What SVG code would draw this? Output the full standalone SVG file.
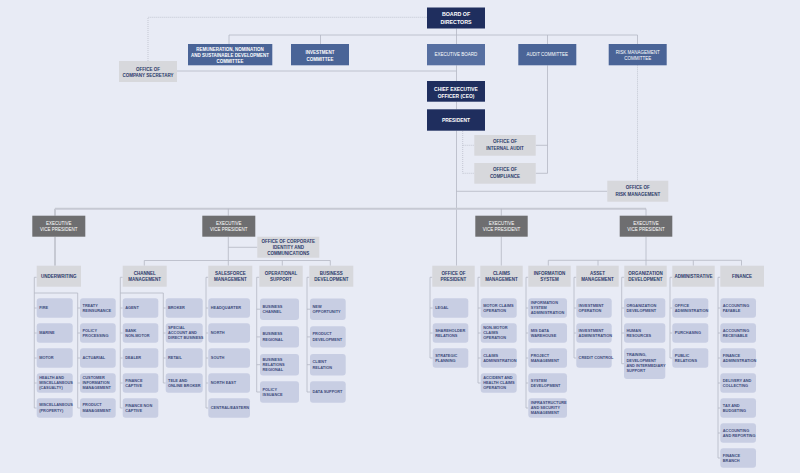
<svg xmlns="http://www.w3.org/2000/svg" width="800" height="473" viewBox="0 0 800 473">
<style>
text{font-family:"Liberation Sans",Arial,sans-serif;}
.nv{fill:#1f2e5e}
.cm{fill:#4a6497}
.eb{fill:#566fa1}
.lg{fill:#d7d8dc}
.ev{fill:#6e6e70}
.it{fill:#c8cee3}
.wt{fill:#ffffff;font-weight:bold;font-size:4.5px;text-anchor:middle}
.wb{fill:#ffffff;font-weight:bold;font-size:5.3px;text-anchor:middle}
.ht{fill:#2c3a6a;font-weight:bold;font-size:4.5px;text-anchor:middle}
.t{fill:#3d4b7c;font-weight:bold;font-size:3.9px}
.ln{stroke:#b4b8c4;stroke-width:0.8;fill:none}
.tk{stroke:#c6c9d3;stroke-width:2;fill:none}
.dl{stroke:#b4b8c4;stroke-width:0.7;fill:none;stroke-dasharray:1 1}
</style>
<rect width="800" height="473" fill="#e8ebf5"/>

<g id="connectors">
<path class="dl" d="M148 61V17.3H427"/>
<path class="ln" d="M229 44V35H637.5V44M320.5 35V44M547.5 35V44M456.5 28.5V44M456.5 65.3V81M456.5 101.7V109.3M177 71H456.5"/>
<path class="ln" d="M547.5 65.3V173.3M535.7 145.3H547.5M535.7 173.3H547.5"/>
<path class="dl" d="M462.7 131V173.3M462.7 145.3H474.3M462.7 173.3H474.3M637.5 65.3V180.7"/>
<path class="ln" d="M456.5 130.7V265.7M456.5 191.3H607.3"/>
<path class="tk" d="M55 208.7H646M55 208.7V215.7M55 236.7V265.7"/>
<path class="ln" d="M228.3 208.7V215.7M228.3 236.7V265.7M501.3 208.7V215.7M501.3 236.7V265.7M646 208.7V215.7M646 236.7V265.7M228.3 247.3H257.3"/>
<path class="ln" d="M144.3 265.7V260.5H330.3V265.7M282.3 260.5V265.7"/>
<path class="ln" d="M548.3 265.7V260.3H741.5V265.7M598 260.3V265.7M693.3 260.3V265.7"/>
<path class="ln" d="M34.3 277.3H36.7M34.3 277.3V408M34.3 308H36.7M34.3 333H36.7M34.3 358H36.7M34.3 383H36.7M34.3 408H36.7M34.3 293H77.7V408M77.7 308H80M77.7 333H80M77.7 358H80M77.7 383H80M77.7 408H80"/>
<path class="ln" d="M120.3 277.3H122.7M120.3 277.3V408M120.3 308H122.7M120.3 333H122.7M120.3 358H122.7M120.3 383H122.7M120.3 408H122.7M120.3 293H163.3V383M163.3 308H165.7M163.3 333H165.7M163.3 358H165.7M163.3 383H165.7"/>
<path class="ln" d="M206 277.3H208.3M206 277.3V408M206 308H208.3M206 333H208.3M206 358H208.3M206 383H208.3M206 408H208.3"/>
<path class="ln" d="M256.7 277.3H259.3M256.7 277.3V392M256.7 309.2H260M256.7 336.9H260M256.7 364.7H260M256.7 392H260"/>
<path class="ln" d="M307 277.3H309.3M307 277.3V392M307 309.2H310M307 336.9H310M307 364.7H310M307 392H310"/>
<path class="ln" d="M430 277.3H432.3M430 277.3V358M430 308H432.7M430 333H432.7M430 358H432.7"/>
<path class="ln" d="M478 277.3H480.3M478 277.3V383M478 308H480.7M478 333H480.7M478 358H480.7M478 383H480.7"/>
<path class="ln" d="M526 277.3H528.3M526 277.3V408M526 308H528.3M526 333H528.3M526 358H528.3M526 383H528.3M526 408H528.3"/>
<path class="ln" d="M574 277.3H576.3M574 277.3V358M574 308H576.3M574 333H576.3M574 358H576.3"/>
<path class="ln" d="M621.7 277.3H624.3M621.7 277.3V363.7M621.7 308H624M621.7 333H624M621.7 363.7H624"/>
<path class="ln" d="M670 277.3H672.3M670 277.3V358M670 308H672.3M670 333H672.3M670 358H672.3"/>
<path class="ln" d="M718 277.3H720.3M718 277.3V458M718 308H720.3M718 333H720.3M718 358H720.3M718 383H720.3M718 408H720.3M718 433H720.3M718 458H720.3"/>
</g>

<g id="board"><rect class="nv" x="427" y="7.5" width="58" height="21"/><text class="wb"><tspan x="456" y="15.7">BOARD OF</tspan><tspan x="456" y="24">DIRECTORS</tspan></text></g>
<g id="remuneration"><rect class="cm" x="188" y="44" width="84.3" height="21.3"/><text class="wt"><tspan x="230" y="50.6">REMUNERATION, NOMINATION</tspan><tspan x="230" y="56.9">AND SUSTAINABLE DEVELOPMENT</tspan><tspan x="230" y="63.2">COMMITTEE</tspan></text></g>
<g id="investment"><rect class="cm" x="291" y="44" width="58" height="21.3"/><text class="wt"><tspan x="320" y="54.3">INVESTMENT</tspan><tspan x="320" y="60.6">COMMITTEE</tspan></text></g>
<g id="executive-board"><rect class="eb" x="427" y="44" width="58" height="21.3"/><text class="wt" x="456" y="56.4" style="font-weight:normal">EXECUTIVE BOARD</text></g>
<g id="audit-committee"><rect class="cm" x="518.3" y="44" width="58" height="21.3"/><text class="wt" x="547.3" y="56.4" style="font-weight:normal">AUDIT COMMITTEE</text></g>
<g id="risk-committee"><rect class="cm" x="608.7" y="44" width="58" height="21.3"/><text class="wt" style="font-weight:normal"><tspan x="637.7" y="53.6">RISK MANAGEMENT</tspan><tspan x="637.7" y="59.6">COMMITTEE</tspan></text></g>
<g id="company-secretary"><rect class="lg" x="119" y="61" width="58" height="21"/><text class="ht"><tspan x="148" y="71">OFFICE OF</tspan><tspan x="148" y="77.3">COMPANY SECRETARY</tspan></text></g>
<g id="ceo"><rect class="nv" x="427" y="81" width="58" height="20.7"/><text class="wt" style="font-size:4.9px"><tspan x="456" y="90.8">CHIEF EXECUTIVE</tspan><tspan x="456" y="98.4">OFFICER (CEO)</tspan></text></g>
<g id="president"><rect class="nv" x="427" y="109.3" width="58" height="21.4"/><text class="wt" x="456" y="121.6" style="font-size:4.9px">PRESIDENT</text></g>
<g id="internal-audit"><rect class="lg" x="474.3" y="135" width="61.4" height="20.7"/><text class="ht"><tspan x="505" y="143.3">OFFICE OF</tspan><tspan x="505" y="150.3">INTERNAL AUDIT</tspan></text></g>
<g id="compliance"><rect class="lg" x="474.3" y="163" width="61.4" height="20.7"/><text class="ht"><tspan x="505" y="171.3">OFFICE OF</tspan><tspan x="505" y="177.6">COMPLIANCE</tspan></text></g>
<g id="risk-office"><rect class="lg" x="607.3" y="180.7" width="61" height="21"/><text class="ht"><tspan x="637.8" y="189.3">OFFICE OF</tspan><tspan x="637.8" y="196">RISK MANAGEMENT</tspan></text></g>

<g id="evp1"><rect class="ev" x="32.3" y="215.7" width="53" height="21"/><text class="wt" style="font-weight:normal"><tspan x="58.8" y="224.9">EXECUTIVE</tspan><tspan x="58.8" y="230.9">VICE PRESIDENT</tspan></text></g>
<g id="evp2"><rect class="ev" x="202.3" y="215.7" width="53" height="21"/><text class="wt" style="font-weight:normal"><tspan x="228.8" y="224.9">EXECUTIVE</tspan><tspan x="228.8" y="230.9">VICE PRESIDENT</tspan></text></g>
<g id="evp3"><rect class="ev" x="475.3" y="215.7" width="52.4" height="21"/><text class="wt" style="font-weight:normal"><tspan x="501.5" y="224.9">EXECUTIVE</tspan><tspan x="501.5" y="230.9">VICE PRESIDENT</tspan></text></g>
<g id="evp4"><rect class="ev" x="619.7" y="215.7" width="52.6" height="21"/><text class="wt" style="font-weight:normal"><tspan x="646" y="224.9">EXECUTIVE</tspan><tspan x="646" y="230.9">VICE PRESIDENT</tspan></text></g>
<g id="corporate-identity"><rect class="lg" x="257.3" y="236.7" width="62" height="21"/><text class="ht"><tspan x="288.3" y="242.6">OFFICE OF CORPORATE</tspan><tspan x="288.3" y="248.9">IDENTITY AND</tspan><tspan x="288.3" y="255.2">COMMUNICATIONS</tspan></text></g>

<g id="underwriting">
<rect class="lg" x="36.7" y="265.7" width="44.3" height="21"/><text class="ht" x="58.8" y="277.8">UNDERWRITING</text>
<rect class="it" x="36.7" y="298.3" width="36" height="19.4" rx="3"/><text class="t" x="39.2" y="309.2">FIRE</text>
<rect class="it" x="36.7" y="323.3" width="36" height="19.4" rx="3"/><text class="t" x="39.2" y="334.2">MARINE</text>
<rect class="it" x="36.7" y="348.3" width="36" height="19.4" rx="3"/><text class="t" x="39.2" y="359.2">MOTOR</text>
<rect class="it" x="36.7" y="373.3" width="36" height="19.4" rx="3"/><text class="t"><tspan x="39.2" y="378.6">HEALTH AND</tspan><tspan x="39.2" y="383.9">MISCELLANEOUS</tspan><tspan x="39.2" y="389.2">(CASUALTY)</tspan></text>
<rect class="it" x="36.7" y="398.3" width="36" height="19.4" rx="3"/><text class="t"><tspan x="39.2" y="406.3">MISCELLANEOUS</tspan><tspan x="39.2" y="411.6">(PROPERTY)</tspan></text>
<rect class="it" x="80" y="298.3" width="35.7" height="19.4" rx="3"/><text class="t"><tspan x="82.5" y="306.5">TREATY</tspan><tspan x="82.5" y="311.8">REINSURANCE</tspan></text>
<rect class="it" x="80" y="323.3" width="35.7" height="19.4" rx="3"/><text class="t"><tspan x="82.5" y="331.5">POLICY</tspan><tspan x="82.5" y="336.8">PROCESSING</tspan></text>
<rect class="it" x="80" y="348.3" width="35.7" height="19.4" rx="3"/><text class="t" x="82.5" y="359.2">ACTUARIAL</text>
<rect class="it" x="80" y="373.3" width="35.7" height="19.4" rx="3"/><text class="t"><tspan x="82.5" y="378.6">CUSTOMER</tspan><tspan x="82.5" y="383.9">INFORMATION</tspan><tspan x="82.5" y="389.2">MANAGEMENT</tspan></text>
<rect class="it" x="80" y="398.3" width="35.7" height="19.4" rx="3"/><text class="t"><tspan x="82.5" y="406.3">PRODUCT</tspan><tspan x="82.5" y="411.6">MANAGEMENT</tspan></text>
</g>

<g id="channel-management">
<rect class="lg" x="122.7" y="265.7" width="44" height="21"/><text class="ht"><tspan x="144.7" y="274.6">CHANNEL</tspan><tspan x="144.7" y="280.9">MANAGEMENT</tspan></text>
<rect class="it" x="122.7" y="298.3" width="35.6" height="19.4" rx="3"/><text class="t" x="125.2" y="309.2">AGENT</text>
<rect class="it" x="122.7" y="323.3" width="35.6" height="19.4" rx="3"/><text class="t"><tspan x="125.2" y="331.5">BANK</tspan><tspan x="125.2" y="336.8">NON-MOTOR</tspan></text>
<rect class="it" x="122.7" y="348.3" width="35.6" height="19.4" rx="3"/><text class="t" x="125.2" y="359.2">DEALER</text>
<rect class="it" x="122.7" y="373.3" width="35.6" height="19.4" rx="3"/><text class="t"><tspan x="125.2" y="381.5">FINANCE</tspan><tspan x="125.2" y="386.8">CAPTIVE</tspan></text>
<rect class="it" x="122.7" y="398.3" width="35.6" height="19.4" rx="3"/><text class="t"><tspan x="125.2" y="406.5">FINANCE NON</tspan><tspan x="125.2" y="411.8">CAPTIVE</tspan></text>
<rect class="it" x="165.7" y="298.3" width="37" height="19.4" rx="3"/><text class="t" x="168" y="309.2">BROKER</text>
<rect class="it" x="165.7" y="323.3" width="37" height="19.4" rx="3"/><text class="t"><tspan x="168" y="328.8">SPECIAL</tspan><tspan x="168" y="334.1">ACCOUNT AND</tspan><tspan x="168" y="339.4">DIRECT BUSINESS</tspan></text>
<rect class="it" x="165.7" y="348.3" width="37" height="19.4" rx="3"/><text class="t" x="168" y="359.2">RETAIL</text>
<rect class="it" x="165.7" y="373.3" width="37" height="19.4" rx="3"/><text class="t"><tspan x="168" y="381.5">TELE AND</tspan><tspan x="168" y="386.8">ONLINE BROKER</tspan></text>
</g>

<g id="salesforce-management">
<rect class="lg" x="208.3" y="265.7" width="44" height="21"/><text class="ht"><tspan x="230.3" y="274.6">SALESFORCE</tspan><tspan x="230.3" y="280.9">MANAGEMENT</tspan></text>
<rect class="it" x="208.3" y="298.3" width="41.7" height="19.4" rx="3"/><text class="t" x="210.8" y="309.2">HEADQUARTER</text>
<rect class="it" x="208.3" y="323.3" width="41.7" height="19.4" rx="3"/><text class="t" x="210.8" y="334.2">NORTH</text>
<rect class="it" x="208.3" y="348.3" width="41.7" height="19.4" rx="3"/><text class="t" x="210.8" y="359.2">SOUTH</text>
<rect class="it" x="208.3" y="373.3" width="41.7" height="19.4" rx="3"/><text class="t" x="210.8" y="384.2">NORTH EAST</text>
<rect class="it" x="208.3" y="398.3" width="41.7" height="19.4" rx="3"/><text class="t" x="210.8" y="409.2">CENTRAL/EASTERN</text>
</g>

<g id="operational-support">
<rect class="lg" x="259.3" y="265.7" width="43.4" height="21"/><text class="ht"><tspan x="281" y="274.6">OPERATIONAL</tspan><tspan x="281" y="280.9">SUPPORT</tspan></text>
<rect class="it" x="260" y="298.5" width="39" height="21.4" rx="3"/><text class="t"><tspan x="262.5" y="307.7">BUSINESS</tspan><tspan x="262.5" y="313">CHANNEL</tspan></text>
<rect class="it" x="260" y="326.2" width="39" height="21.4" rx="3"/><text class="t"><tspan x="262.5" y="335.4">BUSINESS</tspan><tspan x="262.5" y="340.7">REGIONAL</tspan></text>
<rect class="it" x="260" y="354" width="39" height="21.4" rx="3"/><text class="t"><tspan x="262.5" y="360.5">BUSINESS</tspan><tspan x="262.5" y="365.8">RELATIONS</tspan><tspan x="262.5" y="371.1">REGIONAL</tspan></text>
<rect class="it" x="260" y="381.3" width="39" height="21.4" rx="3"/><text class="t"><tspan x="262.5" y="390.5">POLICY</tspan><tspan x="262.5" y="395.8">ISSUANCE</tspan></text>
</g>

<g id="business-development">
<rect class="lg" x="309.3" y="265.7" width="44" height="21"/><text class="ht"><tspan x="331.3" y="274.6">BUSINESS</tspan><tspan x="331.3" y="280.9">DEVELOPMENT</tspan></text>
<rect class="it" x="310" y="298.5" width="35.7" height="21.4" rx="3"/><text class="t"><tspan x="312.5" y="307.7">NEW</tspan><tspan x="312.5" y="313">OPPORTUNITY</tspan></text>
<rect class="it" x="310" y="326.2" width="35.7" height="21.4" rx="3"/><text class="t"><tspan x="312.5" y="335.4">PRODUCT</tspan><tspan x="312.5" y="340.7">DEVELOPMENT</tspan></text>
<rect class="it" x="310" y="354" width="35.7" height="21.4" rx="3"/><text class="t"><tspan x="312.5" y="363.2">CLIENT</tspan><tspan x="312.5" y="368.5">RELATION</tspan></text>
<rect class="it" x="310" y="381.3" width="35.7" height="21.4" rx="3"/><text class="t" x="312.5" y="393.3">DATA SUPPORT</text>
</g>

<g id="office-of-president">
<rect class="lg" x="432.3" y="265.7" width="42.4" height="21"/><text class="ht"><tspan x="453.5" y="274.6">OFFICE OF</tspan><tspan x="453.5" y="280.9">PRESIDENT</tspan></text>
<rect class="it" x="432.7" y="298.3" width="35.6" height="19.4" rx="3"/><text class="t" x="435.2" y="309.2">LEGAL</text>
<rect class="it" x="432.7" y="323.3" width="35.6" height="19.4" rx="3"/><text class="t"><tspan x="435.2" y="331.5">SHAREHOLDER</tspan><tspan x="435.2" y="336.8">RELATIONS</tspan></text>
<rect class="it" x="432.7" y="348.3" width="35.6" height="19.4" rx="3"/><text class="t"><tspan x="435.2" y="356.5">STRATEGIC</tspan><tspan x="435.2" y="361.8">PLANNING</tspan></text>
</g>

<g id="claims-management">
<rect class="lg" x="480.3" y="265.7" width="42.4" height="21"/><text class="ht"><tspan x="501.5" y="274.6">CLAIMS</tspan><tspan x="501.5" y="280.9">MANAGEMENT</tspan></text>
<rect class="it" x="480.7" y="298.3" width="36" height="19.4" rx="3"/><text class="t"><tspan x="483.2" y="306.5">MOTOR CLAIMS</tspan><tspan x="483.2" y="311.8">OPERATION</tspan></text>
<rect class="it" x="480.7" y="323.3" width="36" height="19.4" rx="3"/><text class="t"><tspan x="483.2" y="328.8">NON-MOTOR</tspan><tspan x="483.2" y="334.1">CLAIMS</tspan><tspan x="483.2" y="339.4">OPERATION</tspan></text>
<rect class="it" x="480.7" y="348.3" width="36" height="19.4" rx="3"/><text class="t"><tspan x="483.2" y="356.5">CLAIMS</tspan><tspan x="483.2" y="361.8">ADMINISTRATION</tspan></text>
<rect class="it" x="480.7" y="373.3" width="36" height="19.4" rx="3"/><text class="t"><tspan x="483.2" y="378.8">ACCIDENT AND</tspan><tspan x="483.2" y="384.1">HEALTH CLAIMS</tspan><tspan x="483.2" y="389.4">OPERATION</tspan></text>
</g>

<g id="information-system">
<rect class="lg" x="528.3" y="265.7" width="42.4" height="21"/><text class="ht"><tspan x="549.5" y="274.6">INFORMATION</tspan><tspan x="549.5" y="280.9">SYSTEM</tspan></text>
<rect class="it" x="528.3" y="298.3" width="38.7" height="19.4" rx="3"/><text class="t"><tspan x="530.8" y="303.8">INFORMATION</tspan><tspan x="530.8" y="309.1">SYSTEM</tspan><tspan x="530.8" y="314.4">ADMINISTRATION</tspan></text>
<rect class="it" x="528.3" y="323.3" width="38.7" height="19.4" rx="3"/><text class="t"><tspan x="530.8" y="331.5">MIS DATA</tspan><tspan x="530.8" y="336.8">WAREHOUSE</tspan></text>
<rect class="it" x="528.3" y="348.3" width="38.7" height="19.4" rx="3"/><text class="t"><tspan x="530.8" y="356.5">PROJECT</tspan><tspan x="530.8" y="361.8">MANAGEMENT</tspan></text>
<rect class="it" x="528.3" y="373.3" width="38.7" height="19.4" rx="3"/><text class="t"><tspan x="530.8" y="381.5">SYSTEM</tspan><tspan x="530.8" y="386.8">DEVELOPMENT</tspan></text>
<rect class="it" x="528.3" y="398.3" width="38.7" height="19.4" rx="3"/><text class="t"><tspan x="530.8" y="403.8">INFRASTRUCTURE</tspan><tspan x="530.8" y="409.1">AND SECURITY</tspan><tspan x="530.8" y="414.4">MANAGEMENT</tspan></text>
</g>

<g id="asset-management">
<rect class="lg" x="576.3" y="265.7" width="42.4" height="21"/><text class="ht"><tspan x="597.5" y="274.6">ASSET</tspan><tspan x="597.5" y="280.9">MANAGEMENT</tspan></text>
<rect class="it" x="576.3" y="298.3" width="35.4" height="19.4" rx="3"/><text class="t"><tspan x="578.6" y="306.5">INVESTMENT</tspan><tspan x="578.6" y="311.8">OPERATION</tspan></text>
<rect class="it" x="576.3" y="323.3" width="35.4" height="19.4" rx="3"/><text class="t"><tspan x="578.6" y="331.5">INVESTMENT</tspan><tspan x="578.6" y="336.8">ADMINISTRATION</tspan></text>
<rect class="it" x="576.3" y="348.3" width="35.4" height="19.4" rx="3"/><text class="t" x="578.6" y="359.2">CREDIT CONTROL</text>
</g>

<g id="organization-development">
<rect class="lg" x="624.3" y="265.7" width="42.4" height="21"/><text class="ht"><tspan x="645.5" y="274.6">ORGANIZATION</tspan><tspan x="645.5" y="280.9">DEVELOPMENT</tspan></text>
<rect class="it" x="624" y="298.3" width="41.3" height="19.4" rx="3"/><text class="t"><tspan x="626.5" y="306.5">ORGANIZATION</tspan><tspan x="626.5" y="311.8">DEVELOPMENT</tspan></text>
<rect class="it" x="624" y="323.3" width="41.3" height="19.4" rx="3"/><text class="t"><tspan x="626.5" y="331.5">HUMAN</tspan><tspan x="626.5" y="336.8">RESOURCES</tspan></text>
<rect class="it" x="624" y="348.3" width="41.3" height="30.7" rx="3"/><text class="t"><tspan x="626.5" y="356.4">TRAINING,</tspan><tspan x="626.5" y="361.7">DEVELOPMENT</tspan><tspan x="626.5" y="367">AND INTERMEDIARY</tspan><tspan x="626.5" y="372.3">SUPPORT</tspan></text>
</g>

<g id="administrative">
<rect class="lg" x="672.3" y="265.7" width="42.4" height="21"/><text class="ht" x="693.5" y="277.8">ADMINISTRATIVE</text>
<rect class="it" x="672.3" y="298.3" width="36" height="19.4" rx="3"/><text class="t"><tspan x="674.8" y="306.5">OFFICE</tspan><tspan x="674.8" y="311.8">ADMINISTRATION</tspan></text>
<rect class="it" x="672.3" y="323.3" width="36" height="19.4" rx="3"/><text class="t" x="674.8" y="334.2">PURCHASING</text>
<rect class="it" x="672.3" y="348.3" width="36" height="19.4" rx="3"/><text class="t"><tspan x="674.8" y="356.5">PUBLIC</tspan><tspan x="674.8" y="361.8">RELATIONS</tspan></text>
</g>

<g id="finance">
<rect class="lg" x="720.3" y="265.7" width="43.7" height="21"/><text class="ht" x="742.1" y="277.8">FINANCE</text>
<rect class="it" x="720.3" y="298.3" width="35.7" height="19.4" rx="3"/><text class="t"><tspan x="722.8" y="306.5">ACCOUNTING</tspan><tspan x="722.8" y="311.8">PAYABLE</tspan></text>
<rect class="it" x="720.3" y="323.3" width="35.7" height="19.4" rx="3"/><text class="t"><tspan x="722.8" y="331.5">ACCOUNTING</tspan><tspan x="722.8" y="336.8">RECEIVABLE</tspan></text>
<rect class="it" x="720.3" y="348.3" width="35.7" height="19.4" rx="3"/><text class="t"><tspan x="722.8" y="356.5">FINANCE</tspan><tspan x="722.8" y="361.8">ADMINISTRATION</tspan></text>
<rect class="it" x="720.3" y="373.3" width="35.7" height="19.4" rx="3"/><text class="t"><tspan x="722.8" y="381.5">DELIVERY AND</tspan><tspan x="722.8" y="386.8">COLLECTING</tspan></text>
<rect class="it" x="720.3" y="398.3" width="35.7" height="19.4" rx="3"/><text class="t"><tspan x="722.8" y="406.5">TAX AND</tspan><tspan x="722.8" y="411.8">BUDGETING</tspan></text>
<rect class="it" x="720.3" y="423.3" width="35.7" height="19.4" rx="3"/><text class="t"><tspan x="722.8" y="431.5">ACCOUNTING</tspan><tspan x="722.8" y="436.8">AND REPORTING</tspan></text>
<rect class="it" x="720.3" y="448.3" width="35.7" height="19.4" rx="3"/><text class="t"><tspan x="722.8" y="456.5">FINANCE</tspan><tspan x="722.8" y="461.8">BRANCH</tspan></text>
</g>
</svg>
